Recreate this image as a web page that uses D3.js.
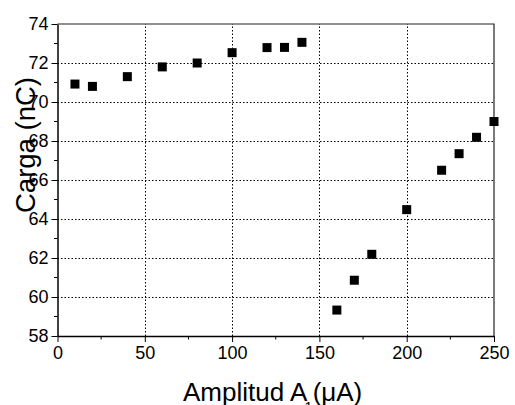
<!DOCTYPE html>
<html>
<head>
<meta charset="utf-8">
<script src="https://cdn.jsdelivr.net/npm/d3@7"></script>
<style>
  body { margin: 0; background: #fff; }
  svg { display: block; font-family: "Liberation Sans", Arial, sans-serif; }
</style>
</head>
<body>
<svg id="chart"></svg>
<script>
// Data
const amplitude = [10, 20, 40, 60, 80, 100, 120, 130, 140, 160, 170, 180, 200, 220, 230, 240, 250];
const charge = [70.92, 70.8, 71.3, 71.8, 72.0, 72.53, 72.79, 72.8, 73.06, 59.33, 60.86, 62.19, 64.48, 66.5, 67.35, 68.19, 69.0];
const xTicks = [0, 50, 100, 150, 200, 250];
const yTicks = [58, 60, 62, 64, 66, 68, 70, 72, 74];
const xMinor = [25, 75, 125, 175, 225];
const yMinor = [59, 61, 63, 65, 67, 69, 71, 73];

// SVG dimensions
const width = 515;
const height = 405;
const margin = { top: 24, right: 21, bottom: 69, left: 57.5 };

const svg = d3.select('#chart')
    .attr('width', width)
    .attr('height', height);

const x = d3.scaleLinear().domain([0, 250]).range([margin.left, width - margin.right]);
const y = d3.scaleLinear().domain([58, 74]).range([height - margin.bottom, margin.top]);

// Grid lines
svg.append('g')
    .selectAll('line')
    .data(xTicks.slice(1, -1))
    .join('line')
    .attr('x1', d => Math.round(x(d)) + 0.5)
    .attr('x2', d => Math.round(x(d)) + 0.5)
    .attr('y1', y(58))
    .attr('y2', y(74))
    .attr('stroke', '#000')
    .attr('stroke-dasharray', '1.5,2');

svg.append('g')
    .selectAll('line')
    .data(yTicks.slice(1, -1))
    .join('line')
    .attr('x1', x(0))
    .attr('x2', x(250))
    .attr('y1', d => Math.round(y(d)) + 0.5)
    .attr('y2', d => Math.round(y(d)) + 0.5)
    .attr('stroke', '#000')
    .attr('stroke-dasharray', '1.5,2');

// Frame (top and right)
svg.append('path')
    .attr('d', `M${x(0)},${y(74)}H${x(250)}V${y(58)}`)
    .attr('fill', 'none')
    .attr('stroke', '#222')
    .attr('stroke-width', 1.2);

// Axes
const xAxis = svg.append('g')
    .attr('transform', `translate(0,${y(58)})`)
    .call(d3.axisBottom(x).tickValues(xTicks).tickSize(6).tickPadding(4).tickSizeOuter(0));
xAxis.append('g')
    .selectAll('line')
    .data(xMinor)
    .join('line')
    .attr('x1', d => x(d))
    .attr('x2', d => x(d))
    .attr('y1', 0)
    .attr('y2', 3.5)
    .attr('stroke', '#000');

const yAxis = svg.append('g')
    .attr('transform', `translate(${x(0)},0)`)
    .call(d3.axisLeft(y).tickValues(yTicks).tickSize(6).tickPadding(3).tickSizeOuter(0));
yAxis.append('g')
    .selectAll('line')
    .data(yMinor)
    .join('line')
    .attr('x1', 0)
    .attr('x2', -3.5)
    .attr('y1', d => y(d))
    .attr('y2', d => y(d))
    .attr('stroke', '#000');

svg.selectAll('.domain').attr('stroke', '#000').attr('stroke-width', 1.5);
svg.selectAll('.tick line').attr('stroke', '#000');
svg.selectAll('.tick text')
    .attr('fill', '#000')
    .style('font-size', '18px')
    .style('font-family', '"Liberation Sans", Arial, sans-serif');

// Points
svg.append('g')
    .selectAll('rect')
    .data(amplitude)
    .join('rect')
    .attr('x', (d, i) => x(d) - 4.5)
    .attr('y', (d, i) => y(charge[i]) - 4.5)
    .attr('width', 9)
    .attr('height', 9)
    .attr('fill', '#000');

// Axis titles
svg.append('text')
    .attr('transform', 'translate(34.5,145) rotate(-90)')
    .attr('text-anchor', 'middle')
    .style('font-size', '27.5px')
    .text('Carga (nC)');

const xTitle = svg.append('text')
    .attr('x', 183)
    .attr('y', 401)
    .style('font-size', '26px');
xTitle.append('tspan').text('Amplitud A');
xTitle.append('tspan').attr('dx', -3).attr('dy', 11).style('font-size', '15px').text('1');
xTitle.append('tspan').attr('dx', 0).attr('dy', -11).text('(μA)');
</script>
</body>
</html>
